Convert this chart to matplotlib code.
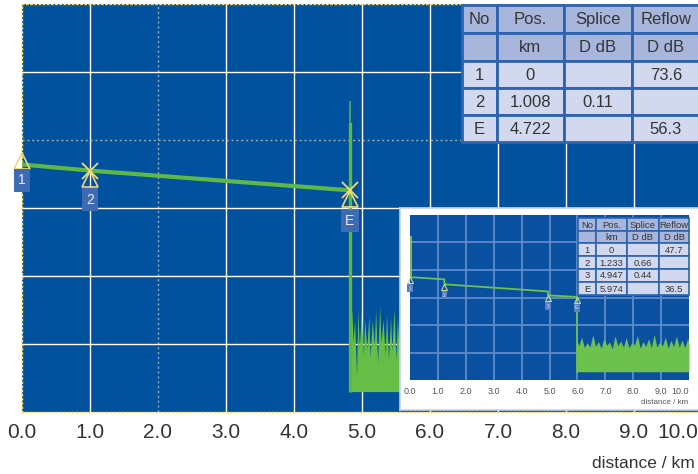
import matplotlib
matplotlib.use('Agg')
import matplotlib.pyplot as plt
from matplotlib.patches import Rectangle
from matplotlib.transforms import offset_copy

plt.rcParams['font.family'] = ['Liberation Sans', 'DejaVu Sans']

# ---------------- data : main trace ----------------
trace_km = [0.0, 1.0, 4.82]
trace_db = [18.2, 17.75, 16.3]
event_km = [0.0, 1.0, 4.82]
event_db = [18.2, 17.75, 16.3]
event_labels = ['1', '2', 'E']
spike_km = 4.82
spike_top_thick = 21.3
spike_top_thin = 22.9
noise_floor = 1.5
noise_km = [4.82, 4.85, 4.87, 4.89, 4.92, 4.94, 4.96, 4.99, 5.02, 5.04, 5.07, 5.10,
            5.12, 5.15, 5.18, 5.20, 5.23, 5.26, 5.28, 5.31, 5.34, 5.36, 5.39,
            5.42, 5.44, 5.47, 5.50, 5.52, 5.55, 5.58]
noise_db = [6.0, 7.5, 5.1, 6.8, 2.7, 7.6, 4.6, 7.4, 4.0, 6.8, 4.6, 7.1, 4.0,
            6.8, 4.8, 7.5, 3.6, 7.8, 5.1, 6.8, 4.2, 7.3, 3.9, 7.0, 4.5, 7.6,
            3.8, 6.9, 4.4, 7.2]
x_ticks = [0, 1, 2, 3, 4, 5, 6, 7, 8, 9, 10]
x_tick_labels = ['0.0', '1.0', '2.0', '3.0', '4.0', '5.0', '6.0', '7.0', '8.0', '9.0', '10.0']
x_label = 'distance / km'

table_rows = [
    ['No', 'Pos.', 'Splice', 'Reflow'],
    ['', 'km', 'D dB', 'D dB'],
    ['1', '0', '', '73.6'],
    ['2', '1.008', '0.11', ''],
    ['E', '4.722', '', '56.3'],
]

# ---------------- data : inset trace ----------------
inset_trace_km = [0.0, 1.233, 1.233, 4.947, 4.947, 5.974]
inset_trace_db = [18.7, 18.3, 17.4, 16.1, 15.4, 15.1]
inset_launch_top = 26.0
inset_event_km = [0.0, 1.233, 4.947, 5.974]
inset_event_db = [18.7, 17.4, 15.4, 15.1]
inset_event_labels = ['1', '2', '3', 'E']
inset_noise_km = [5.974, 6.05, 6.15, 6.25, 6.35, 6.45, 6.55, 6.65, 6.75, 6.85, 6.95,
                  7.05, 7.15, 7.25, 7.35, 7.45, 7.55, 7.65, 7.75, 7.85, 7.95,
                  8.05, 8.15, 8.25, 8.35, 8.45, 8.55, 8.65, 8.75, 8.85, 8.95,
                  9.05, 9.15, 9.25, 9.35, 9.45, 9.55, 9.65, 9.75, 9.85, 9.95, 10.0]
inset_noise_db = [7.5, 6.2, 7.8, 5.9, 6.8, 6.0, 8.2, 6.1, 7.0, 5.8, 7.6,
                  6.3, 6.9, 5.7, 8.0, 6.2, 7.1, 6.0, 7.7, 5.9, 6.8,
                  6.4, 8.1, 5.8, 7.0, 6.1, 7.5, 5.9, 8.3, 6.0, 6.9,
                  6.2, 7.8, 5.8, 7.2, 6.1, 8.0, 6.0, 7.3, 5.9, 7.6, 6.5]
inset_noise_floor = 1.5
inset_table_rows = [
    ['No', 'Pos.', 'Splice', 'Reflow'],
    ['', 'km', 'D dB', 'D dB'],
    ['1', '0', '', '47.7'],
    ['2', '1.233', '0.66', ''],
    ['3', '4.947', '0.44', ''],
    ['E', '5.974', '', '36.5'],
]

# ---------------- styling ----------------
W, H = 698, 474
BLUE = '#00519E'
GREEN = '#5DB846'
YEL = '#F2D877'
BOXC = '#3F6BB5'


def fr(x0, y0, x1, y1):
    return [x0 / W, 1 - y1 / H, (x1 - x0) / W, (y1 - y0) / H]


fig = plt.figure(figsize=(W / 100, H / 100), dpi=100)
fig.patch.set_facecolor('white')

# ---------------- main axes ----------------
ax = fig.add_axes(fr(22, 4, 702, 412))
ax.set_facecolor(BLUE)
ax.set_xlim(0, 10)
ax.set_ylim(0, 30)
ax.set_xticks([])
ax.set_yticks([])
for s in ['left', 'top', 'bottom']:
    ax.spines[s].set_color(YEL)
    ax.spines[s].set_linestyle((0, (1, 2)))
    ax.spines[s].set_linewidth(1.0)
ax.spines['right'].set_visible(False)

for k in range(1, 10):
    if k == 2:
        ax.axvline(k, color='#9FAFB0', lw=1.0, ls=(0, (1.5, 2)), zorder=1)
    else:
        ax.axvline(k, color='white', lw=1.0, zorder=1)
for d in [5, 10, 15, 20, 25]:
    if d == 20:
        ax.axhline(d, color='#9FAFB0', lw=1.0, ls=(0, (1.5, 2)), zorder=1)
    else:
        ax.axhline(d, color='white', lw=1.0, zorder=1)

ax.fill_between(noise_km, noise_floor, noise_db, color='#66BE46', lw=0, zorder=2)
ax.plot([spike_km, spike_km], [noise_floor, spike_top_thick], color=GREEN, lw=2.4,
        solid_capstyle='butt', zorder=3)
ax.plot([spike_km, spike_km], [spike_top_thick, spike_top_thin], color=GREEN, lw=1.1,
        solid_capstyle='butt', zorder=3)
ax.plot(trace_km, trace_db, color=GREEN, lw=3, solid_capstyle='butt', zorder=3)

tri_off = [3.5, -8.5, -8.5]
box_off = [-16, -29, -31]
has_cross = [False, True, True]
for k, d, lab, to, bo, hc in zip(event_km, event_db, event_labels, tri_off, box_off, has_cross):
    tt = offset_copy(ax.transData, fig=fig, x=0, y=to, units='dots')
    ax.plot([k], [d], marker='^', ms=12, mfc='none', mec=YEL, mew=1.2,
            transform=tt, zorder=5, clip_on=False)
    if hc:
        ax.plot([k], [d], marker='x', ms=12, mec=YEL, mew=1.3, zorder=5)
    tb = offset_copy(ax.transData, fig=fig, x=0, y=bo, units='dots')
    ax.text(k, d, lab, transform=tb, ha='center', va='center', fontsize=10,
            color='#E6ECF8', zorder=6,
            bbox=dict(boxstyle='square,pad=0.3', fc=BOXC, ec='none'))

xt = ax.get_xaxis_transform()
for k, lab in zip(x_ticks, x_tick_labels):
    if k == x_ticks[-1]:
        t = offset_copy(xt, fig=fig, x=-4, y=0, units='dots')
        ax.text(k, -21 / 408, lab, transform=t, ha='right', va='center',
                fontsize=15, color='#333333', clip_on=False)
    else:
        ax.text(k, -21 / 408, lab, transform=xt, ha='center', va='center',
                fontsize=15, color='#333333', clip_on=False)
fig.text(695 / W, 1 - 464 / H, x_label, ha='right', va='center', fontsize=12.5,
         color='#333333')

# ---------------- inset ----------------
bg = fig.add_axes(fr(400, 208, 702, 410))
bg.set_facecolor('white')
bg.set_xticks([])
bg.set_yticks([])
for s in bg.spines.values():
    s.set_color('#C6D3EA')
    s.set_linewidth(1.2)

iax = fig.add_axes(fr(410, 215, 689, 380))
iax.set_facecolor('#0A50A0')
iax.set_xlim(0, 10)
iax.set_ylim(0, 30)
iax.set_xticks([])
iax.set_yticks([])
for s in iax.spines.values():
    s.set_visible(False)
for k in range(1, 10):
    iax.axvline(k, color='#5F8AC8', lw=1.3, zorder=1)
for d in [5, 10, 15, 20, 25]:
    iax.axhline(d, color='#5F8AC8', lw=1.3, zorder=1)

iax.fill_between(inset_noise_km, inset_noise_floor, inset_noise_db, color='#6CC24C',
                 lw=0, zorder=2)
iax.plot([inset_noise_km[0], inset_noise_km[0]], [inset_noise_floor, inset_trace_db[-1]],
         color='#6CC24C', lw=1.2, zorder=3)
iax.plot([0.03, 0.03], [inset_trace_db[0], inset_launch_top], color='#9CC850', lw=1.2,
         zorder=3)
iax.plot(inset_trace_km, inset_trace_db, color='#6CC24C', lw=1.3, zorder=3)
for k, d, lab in zip(inset_event_km, inset_event_db, inset_event_labels):
    tt = offset_copy(iax.transData, fig=fig, x=0, y=-3, units='dots')
    iax.plot([k], [d], marker='^', ms=5, mfc='none', mec='#C8D890', mew=0.8,
             transform=tt, zorder=5, clip_on=False)
    tb = offset_copy(iax.transData, fig=fig, x=0, y=-11, units='dots')
    iax.text(k, d, lab, transform=tb, ha='center', va='center', fontsize=3.5,
             color='#DDE4F4', zorder=6, clip_on=False,
             bbox=dict(boxstyle='square,pad=0.3', fc='#5A80C4', ec='none'))

ixt = iax.get_xaxis_transform()
for k, lab in zip(x_ticks, x_tick_labels):
    ha = 'right' if k == x_ticks[-1] else 'center'
    iax.text(k, -12 / 165, lab, transform=ixt, ha=ha, va='center', fontsize=6.5,
             color='#555555', clip_on=False)
fig.text(688 / W, 1 - 403 / H, x_label, ha='right', va='center', fontsize=5.8,
         color='#555555')

# ---------------- tables (overlay in pixel coords) ----------------
ov = fig.add_axes([0, 0, 1, 1])
ov.set_xlim(0, W)
ov.set_ylim(H, 0)
ov.axis('off')
ov.patch.set_alpha(0)


def draw_table(xe, ye, rows, fs, lw):
    for r, row in enumerate(rows):
        for c, txt in enumerate(row):
            fc = '#A8B6DC' if r < 2 else '#D2D8EE'
            ov.add_patch(Rectangle((xe[c], ye[r]), xe[c + 1] - xe[c], ye[r + 1] - ye[r],
                                   fc=fc, ec='#2F63AF', lw=lw))
            ov.text((xe[c] + xe[c + 1]) / 2, (ye[r] + ye[r + 1]) / 2 + 0.5, txt,
                    ha='center', va='center', fontsize=fs, color='#353535')


draw_table([462, 497, 564, 632, 700], [5, 33, 61, 88, 115, 142], table_rows, 12, 2.0)
draw_table([578, 596, 627, 659, 689], [218, 231, 243, 256, 269, 282, 295],
           inset_table_rows, 6.8, 1.2)

fig.savefig('out.png', dpi=100)
